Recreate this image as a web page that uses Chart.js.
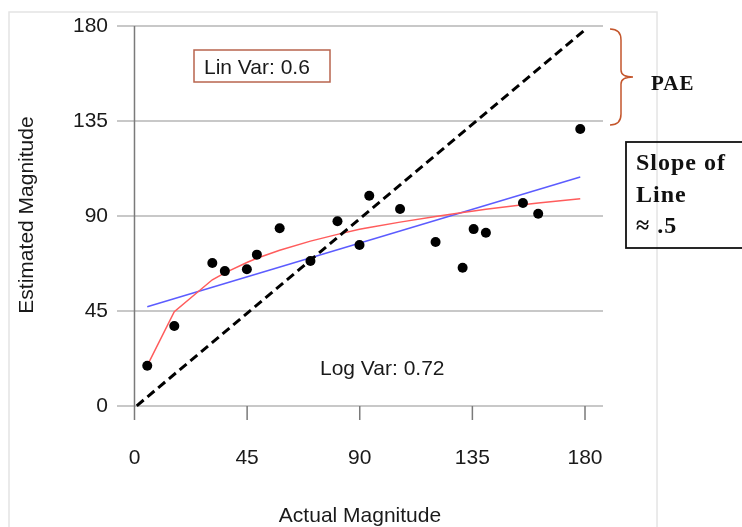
<!DOCTYPE html>
<html>
<head>
<meta charset="utf-8">
<script src="https://cdn.jsdelivr.net/npm/chart.js@4"></script>
<style>
    body { margin: 0; background: #ffffff; }
    canvas { display: block; }
</style>
</head>
<body>
<canvas id="magnitudeChart" width="742" height="527"></canvas>
<script>
// Observed points (actual vs estimated magnitude)
const actualMag = [5.1, 15.9, 31.1, 36.1, 44.9, 48.9, 58.0, 70.3, 81.1, 89.9, 93.8, 106.1, 120.3, 131.1, 135.5, 140.4, 155.2, 161.3, 178.1];
const estimatedMag = [19.1, 37.9, 67.7, 63.9, 64.8, 71.7, 84.2, 68.7, 87.5, 76.3, 99.6, 93.3, 77.7, 65.5, 83.8, 82.1, 96.2, 91.1, 131.2];

// Log fit (red), read at each observed x
const logFit = [19.1, 44.7, 59.8, 63.1, 68.0, 70.0, 73.8, 78.1, 81.3, 83.7, 84.6, 87.1, 89.8, 91.7, 92.4, 93.2, 95.3, 96.2, 98.2];

// Linear fit (blue) end points
const linFitX = [5.1, 178.1];
const linFitY = [47.0, 108.5];

// Perfect estimate line (dashed)
const identityX = [0.9, 180.2];
const identityY = [0.1, 178.4];

// Axis ticks
const xTicks = [0, 45, 90, 135, 180];
const yTicks = [0, 45, 90, 135, 180];

const toPoints = (xs, ys) => xs.map((x, i) => ({ x: x, y: ys[i] }));
const sansFont = '"Liberation Sans", Arial, sans-serif';

// White background + light frame around the figure
const framePlugin = {
    id: "frame",
    beforeDraw(chart) {
        const ctx = chart.ctx;
        ctx.save();
        ctx.fillStyle = "#ffffff";
        ctx.fillRect(0, 0, chart.width, chart.height);
        ctx.strokeStyle = "#e4e4e4";
        ctx.lineWidth = 1.5;
        ctx.strokeRect(9, 12, 648, 530);
        ctx.restore();
    },
};

// Vertical axis at x = 0 and short tick marks under the 0 gridline
const axisPlugin = {
    id: "axisMarks",
    beforeDatasetsDraw(chart) {
        const { ctx, chartArea, scales } = chart;
        const x0 = scales.x.getPixelForValue(0);
        ctx.save();
        ctx.strokeStyle = "#7a7a7a";
        ctx.lineWidth = 1.5;
        ctx.beginPath();
        ctx.moveTo(x0, scales.y.getPixelForValue(180));
        ctx.lineTo(x0, chartArea.bottom + 2);
        xTicks.forEach((t) => {
            const px = scales.x.getPixelForValue(t);
            ctx.moveTo(px, scales.y.getPixelForValue(0));
            ctx.lineTo(px, chartArea.bottom + 2);
        });
        ctx.stroke();
        ctx.restore();
    },
};

// Y title, text boxes and the PAE bracket
const notesPlugin = {
    id: "notes",
    afterDraw(chart) {
        const { ctx, chartArea, scales } = chart;
        ctx.save();

        // Y axis title (drawn by hand to sit a little above centre like the original)
        ctx.save();
        ctx.translate(27.5, 215);
        ctx.rotate(-Math.PI / 2);
        ctx.fillStyle = "#1a1a1a";
        ctx.font = "21px " + sansFont;
        ctx.textAlign = "center";
        ctx.textBaseline = "middle";
        ctx.fillText("Estimated Magnitude", 0, 0);
        ctx.restore();

        // Lin Var box
        ctx.strokeStyle = "#b8644e";
        ctx.lineWidth = 1.5;
        ctx.strokeRect(194, 50, 136, 32);
        ctx.fillStyle = "#1a1a1a";
        ctx.font = "21px " + sansFont;
        ctx.textBaseline = "alphabetic";
        ctx.fillText("Lin Var: 0.6", 204, 74);

        // Log Var label
        ctx.fillText("Log Var: 0.72", 320, 375);

        // PAE bracket between 180 and 135
        const top = scales.y.getPixelForValue(180) + 3;
        const bot = scales.y.getPixelForValue(135) + 4;
        const mid = (top + bot) / 2;
        const bx = chartArea.right + 7;
        ctx.strokeStyle = "#c4562c";
        ctx.lineWidth = 1.5;
        ctx.beginPath();
        ctx.moveTo(bx, top);
        ctx.quadraticCurveTo(bx + 11, top, bx + 11, top + 11);
        ctx.lineTo(bx + 11, mid - 7);
        ctx.quadraticCurveTo(bx + 11, mid, bx + 23, mid);
        ctx.moveTo(bx + 23, mid);
        ctx.quadraticCurveTo(bx + 11, mid, bx + 11, mid + 7);
        ctx.lineTo(bx + 11, bot - 11);
        ctx.quadraticCurveTo(bx + 11, bot, bx, bot);
        ctx.stroke();

        ctx.fillStyle = "#111111";
        ctx.letterSpacing = "1px";
        ctx.font = 'bold 21px "Liberation Serif", serif';
        ctx.fillText("PAE", 651, 90);

        // Slope box
        ctx.strokeStyle = "#111111";
        ctx.lineWidth = 1.8;
        ctx.strokeRect(626, 142, 130, 106);
        ctx.font = 'bold 24px "Liberation Serif", serif';
        ctx.fillText("Slope of", 636, 170);
        ctx.fillText("Line", 636, 201.5);
        ctx.fillText("\u2248 .5", 636, 233);

        ctx.restore();
    },
};

const chartCtx = document.getElementById("magnitudeChart").getContext("2d");
new Chart(chartCtx, {
    type: "scatter",
    data: {
        datasets: [
            {
                label: "Responses",
                data: toPoints(actualMag, estimatedMag),
                backgroundColor: "#000000",
                borderWidth: 0,
                pointRadius: 5,
            },
            {
                label: "Identity",
                data: toPoints(identityX, identityY),
                showLine: true,
                borderColor: "#000000",
                borderWidth: 3,
                borderDash: [9, 5],
                pointRadius: 0,
            },
            {
                label: "Log fit",
                data: toPoints(actualMag, logFit),
                showLine: true,
                borderColor: "#ff5c5c",
                borderWidth: 1.5,
                pointRadius: 0,
            },
            {
                label: "Linear fit",
                data: toPoints(linFitX, linFitY),
                showLine: true,
                borderColor: "#5c5cff",
                borderWidth: 1.5,
                pointRadius: 0,
            },
        ],
    },
    options: {
        responsive: false,
        animation: false,
        devicePixelRatio: 1,
        layout: { padding: { left: 0, right: 139, top: 26, bottom: 0 } },
        plugins: { legend: { display: false }, tooltip: { enabled: false } },
        scales: {
            x: {
                type: "linear",
                min: -6.99,
                max: 187.19,
                afterBuildTicks: (scale) => { scale.ticks = xTicks.map((v) => ({ value: v })); },
                afterFit: (scale) => { scale.height = 109; },
                grid: { display: false },
                border: { display: false },
                ticks: {
                    color: "#1a1a1a",
                    font: { family: sansFont, size: 21 },
                    padding: 20,
                    maxRotation: 0,
                },
                title: {
                    display: true,
                    text: "Actual Magnitude",
                    color: "#1a1a1a",
                    font: { family: sansFont, size: 21, lineHeight: 1 },
                    padding: { top: 0, bottom: 0 },
                },
            },
            y: {
                type: "linear",
                min: -5.68,
                max: 180,
                afterBuildTicks: (scale) => { scale.ticks = yTicks.map((v) => ({ value: v })); },
                afterFit: (scale) => { scale.width = 117; },
                grid: { color: "#c8c8c8", lineWidth: 2, drawTicks: false },
                border: { display: false },
                ticks: {
                    color: "#1a1a1a",
                    font: { family: sansFont, size: 21 },
                    padding: 9,
                },
                title: { display: false },
            },
        },
    },
    plugins: [framePlugin, axisPlugin, notesPlugin],
});
</script>
</body>
</html>
